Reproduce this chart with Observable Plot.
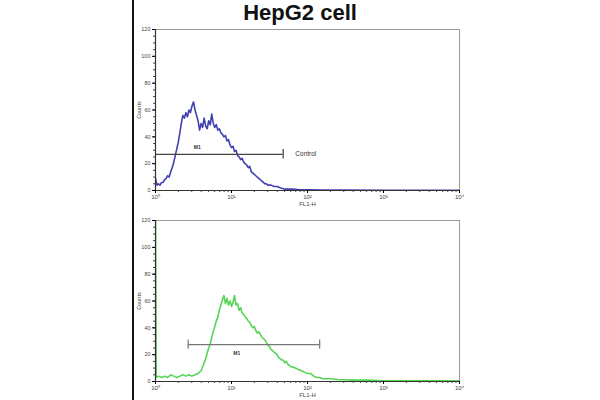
<!DOCTYPE html>
<html>
<head>
<meta charset="utf-8">
<script src="https://cdn.jsdelivr.net/npm/d3@7"></script>
<script src="https://cdn.jsdelivr.net/npm/@observablehq/plot@0.6"></script>
<style>
  html, body { margin: 0; padding: 0; background: #fff; }
  #wrap { position: relative; width: 600px; height: 400px; overflow: hidden; font-family: "Liberation Sans", Arial, sans-serif; }
  #title { position: absolute; left: 0; width: 600px; top: 0px; text-align: center; font-weight: bold; font-size: 22px; line-height: 26px; color: #111; }
  #vline { position: absolute; left: 132px; top: 0; width: 2px; height: 400px; background: #111; }
  .panel { position: absolute; left: 0; }
</style>
</head>
<body>
<div id="wrap">
  <div id="vline"></div>
  <div id="title">HepG2 cell</div>
</div>
<script>
// ---- data (x in log10 FL1-H decades, y in counts) ----
const xTickValues = [0, 1, 2, 3, 4];
const xTickLabels = ["10⁰", "10¹", "10²", "10³", "10⁴"];
const yTickValues = [0, 20, 40, 60, 80, 100, 120];

const blueLogX = [0.00,0.02,0.04,0.06,0.08,0.10,0.12,0.14,0.16,0.18,0.20,0.22,0.24,0.26,0.28,0.30,0.32,0.34,0.36,0.38,0.40,0.42,0.44,0.46,0.48,0.50,0.52,0.54,0.56,0.58,0.60,0.62,0.64,0.66,0.68,0.70,0.72,0.74,0.76,0.78,0.80,0.82,0.84,0.86,0.88,0.90,0.92,0.94,0.96,0.98,1.00,1.02,1.04,1.06,1.08,1.10,1.12,1.14,1.16,1.18,1.20,1.22,1.24,1.26,1.28,1.30,1.32,1.34,1.36,1.38,1.40,1.42,1.44,1.46,1.48,1.52,1.56,1.60,1.64,1.70,1.80,1.90,2.00,2.20,2.50,3.00,3.50,4.00];
const blueCount = [9,4,5,4,6,6,8,9,11,10,14,17,21,26,31,36,43,50,56,54,58,55,60,58,63,66,60,56,52,45,50,47,54,48,46,52,49,57,50,47,49,45,46,43,42,40,41,37,38,34,32,33,29,30,26,25,23,24,21,20,19,17,18,14,13,12,11,10,9,8,7,6,5,5,4,4,3,3,2,1,1,0.5,0.5,0.3,0.3,0.2,0.2,0.2];

const greenLogX = [0.00,0.01,0.04,0.08,0.12,0.16,0.20,0.24,0.28,0.32,0.36,0.40,0.44,0.48,0.52,0.56,0.60,0.62,0.64,0.66,0.68,0.70,0.72,0.74,0.76,0.78,0.80,0.82,0.84,0.86,0.88,0.90,0.92,0.94,0.96,0.98,1.00,1.02,1.04,1.06,1.08,1.10,1.12,1.14,1.16,1.18,1.20,1.22,1.24,1.26,1.28,1.30,1.32,1.34,1.36,1.38,1.40,1.42,1.44,1.46,1.48,1.50,1.52,1.54,1.56,1.58,1.60,1.62,1.64,1.66,1.68,1.70,1.72,1.74,1.76,1.78,1.80,1.84,1.88,1.92,1.96,2.00,2.04,2.08,2.12,2.16,2.20,2.30,2.40,2.60,2.80,3.00,3.50,4.00];
const greenCount = [130,3,4,3,4,3,5,4,3,4,5,4,5,4,5,6,8,11,14,17,21,25,28,33,37,41,45,48,53,57,61,64,58,62,57,60,56,59,64,57,58,53,55,51,50,48,47,45,44,42,40,41,38,36,37,35,33,32,31,29,27,26,24,23,22,21,20,18,17,16,16,14,15,13,12,11,11,10,9,8,7,6,6,4,3,3,2,2,1.5,1,1,0.6,0.5,0.5];

// markers
const topMarkerX = [0, 1.68];
const topMarkerY = 27;
const botMarkerX = [0.43, 2.16];
const botMarkerY = 27.5;

const blue = blueLogX.map((x, i) => ({x, y: blueCount[i]}));
const green = greenLogX.map((x, i) => ({x, y: greenCount[i]}));
const minorTicks = [];
for (let d = 0; d < 4; d++) for (let k = 2; k <= 9; k++) minorTicks.push(d + Math.log10(k));
const yMinor = d3.range(0, 121, 5);

function panel({data, color, height, marginTop, marginBottom, markerX, markerY, markerLabel, markerLabelX, markerLabelY, extra, capsBoth, markerColor}) {
  const marks = [
    Plot.frame({stroke: "#9a9a9a", strokeWidth: 1}),
    Plot.line(data, {x: "x", y: "y", stroke: color, strokeWidth: 1.6, strokeOpacity: 0.9, clip: true}),
    Plot.ruleY([markerY], {x1: markerX[0], x2: markerX[1], stroke: markerColor, strokeWidth: 1.2}),
    Plot.ruleX(capsBoth ? markerX : [markerX[1]], {x: d => d, y1: markerY - 3.5, y2: markerY + 3.5, stroke: markerColor, strokeWidth: 1.2}),
    Plot.text([markerLabel], {x: markerLabelX, y: markerLabelY, text: d => d, fontSize: 5, fill: "#333", fontWeight: "bold"}),
    Plot.ruleX([0], {stroke: "#333", strokeWidth: 1.2}),
    Plot.ruleY([0], {stroke: "#333", strokeWidth: 1.2}),
    Plot.axisX(minorTicks, {tickSize: 2, text: null, label: null, stroke: "#444"}),
    Plot.axisY(yMinor, {tickSize: 2, text: null, label: null, stroke: "#444"}),
    Plot.axisX({ticks: xTickValues, tickFormat: i => xTickLabels[i], tickSize: 3, tickPadding: 1, fontSize: 6, fill: "#444", label: "FL1-H", labelAnchor: "center", labelArrow: "none", labelOffset: 15}),
    Plot.axisY({ticks: yTickValues, tickSize: 3, tickPadding: 2, fontSize: 5.5, fill: "#444", label: "Counts", labelAnchor: "center", labelArrow: "none", labelOffset: 18})
  ];
  if (extra) marks.push(extra);
  return Plot.plot({
    width: 600, height, marginLeft: 155, marginRight: 141, marginTop, marginBottom,
    x: {domain: [0, 4]},
    y: {domain: [0, 120]},
    style: {fontFamily: "Liberation Sans, Arial, sans-serif", fontSize: "5.5px", background: "transparent"},
    marks
  });
}

const topPanel = panel({
  data: blue, color: "#2b2ba6", height: 192, marginTop: 9, marginBottom: 22,
  markerX: topMarkerX, markerY: topMarkerY, markerLabel: "M1", markerLabelX: 0.55, markerLabelY: 32,
  capsBoth: false, markerColor: "#444",
  extra: Plot.text(["Control"], {x: 1.84, y: topMarkerY, text: d => d, textAnchor: "start", fontSize: 6.5, fill: "#333"})
});
topPanel.classList.add("panel");
topPanel.style.top = "20px";

const bottomPanel = panel({
  data: green, color: "#44d044", height: 188, marginTop: 8, marginBottom: 19,
  markerX: botMarkerX, markerY: botMarkerY, markerLabel: "M1", markerLabelX: 1.07, markerLabelY: 21,
  capsBoth: true, markerColor: "#777"
});
bottomPanel.classList.add("panel");
bottomPanel.style.top = "212px";

const wrap = document.getElementById("wrap");
wrap.appendChild(topPanel);
wrap.appendChild(bottomPanel);
</script>
</body>
</html>
